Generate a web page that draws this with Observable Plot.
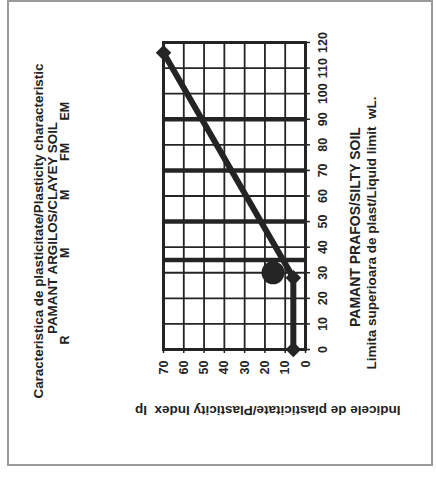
<!DOCTYPE html>
<html>
<head>
<meta charset="utf-8">
<script src="https://cdn.jsdelivr.net/npm/d3@7"></script>
<script src="https://cdn.jsdelivr.net/npm/@observablehq/plot@0.6"></script>
<style>
  html, body { margin: 0; padding: 0; background: #fff; overflow: hidden; }
  #page {
    position: absolute; left: 0; top: 0; width: 480px; height: 436px;
    transform-origin: 0 0; transform: rotate(-90deg) translateX(-480px);
    font-family: "Liberation Sans", Arial, sans-serif; font-weight: bold; color: #222;
  }
  #page .t { position: absolute; white-space: pre; line-height: 1; }
  #frame { position: absolute; left: 14px; top: 7px; width: 462px; height: 422px; border: 2px solid #9a9a9a; }
  #chart { position: absolute; left: 0; top: 0; }
</style>
</head>
<body>
<div id="page">
  <div id="frame"></div>
  <div id="chart"></div>
</div>
<script>
// ---- data ----
const liquidLimitTicks = [0, 10, 20, 30, 40, 50, 60, 70, 80, 90, 100, 110, 120];
const plasticityTicks = [0, 10, 20, 30, 40, 50, 60, 70];
const classBoundaries = [35, 50, 70, 90];
const lineWl = [0, 28, 116];
const lineIp = [6, 6, 70];
const sampleWl = [30];
const sampleIp = [16];
const classLabels = ["R", "M", "M", "FM", "EM"];
const titleLine1 = "Caracteristica de plasticitate/Plasticity characteristic";
const titleLine2 = "PAMANT ARGILOS/CLAYEY SOIL";
const xLabel1 = "PAMANT PRAFOS/SILTY SOIL";
const xLabel2 = "Limita superioara de plast/Liquid limit  wL.";
const yLabel = "Indicele de plasticitate/Plasticity Index  Ip";

const aLine = lineWl.map((w, i) => ({wl: w, ip: lineIp[i]}));
const samples = sampleWl.map((w, i) => ({wl: w, ip: sampleIp[i]}));
const ink = "#242424";

const chart = Plot.plot({
  width: 480, height: 436,
  marginLeft: 130, marginRight: 43, marginTop: 163, marginBottom: 131,
  x: {domain: [0, 120]},
  y: {domain: [0, 70]},
  style: {fontFamily: "'Liberation Sans', Arial, sans-serif", fontWeight: "bold", fontSize: "12.5px", color: ink, background: "transparent", overflow: "visible"},
  marks: [
    Plot.gridX(liquidLimitTicks, {stroke: ink, strokeOpacity: 1, strokeWidth: 1.8}),
    Plot.gridY(plasticityTicks, {stroke: ink, strokeOpacity: 1, strokeWidth: 1.8}),
    Plot.ruleX(classBoundaries, {stroke: ink, strokeWidth: 4.5}),
    Plot.frame({stroke: ink, strokeWidth: 3}),
    Plot.axisX(liquidLimitTicks, {anchor: "bottom", tickSize: 5, tickPadding: 8, label: null, stroke: ink, strokeWidth: 1.5}),
    Plot.axisY(plasticityTicks, {anchor: "left", tickSize: 3, tickPadding: 8, label: null, stroke: ink, strokeWidth: 1.5}),
    Plot.line(aLine, {x: "wl", y: "ip", stroke: ink, strokeWidth: 6}),
    Plot.dot(aLine, {x: "wl", y: "ip", symbol: "diamond2", r: 7, fill: ink, stroke: null}),
    Plot.dot(samples, {x: "wl", y: "ip", r: 11.5, fill: ink, stroke: null})
  ]
});
document.getElementById("chart").appendChild(chart);

// ---- text ----
const page = document.getElementById("page");
function addText(str, cx, cy, size, rotate) {
  const el = document.createElement("div");
  el.className = "t";
  el.textContent = str;
  el.style.fontSize = size + "px";
  page.appendChild(el);
  const w = el.offsetWidth, h = el.offsetHeight;
  el.style.left = (cx - w / 2) + "px";
  el.style.top = (cy - h / 2) + "px";
  if (rotate) el.style.transform = "rotate(" + rotate + "deg)";
  return el;
}
addText(titleLine1, 249, 38, 13.4);
addText(titleLine2, 252, 52, 13.4);
const classX = [140, 227, 285, 328, 369];
classLabels.forEach((s, i) => addText(s, classX[i], 65, 12.5));
addText(xLabel1, 253, 355, 14);
addText(xLabel2, 247, 372, 13.5);
addText(yLabel, 70, 268, 13.5, -90);
</script>
</body>
</html>
